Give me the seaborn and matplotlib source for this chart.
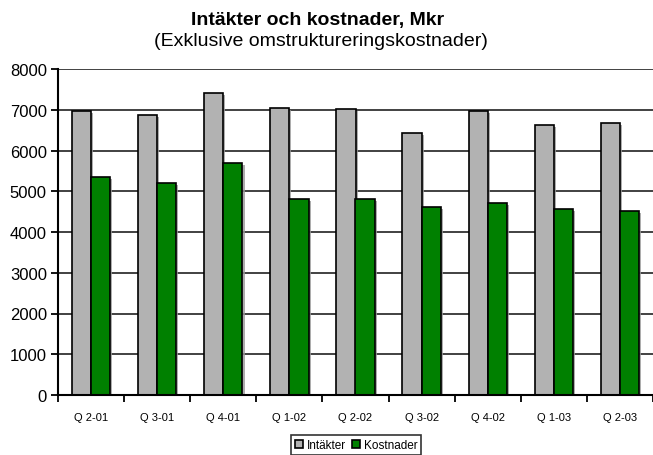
import numpy as np
import pandas as pd
import matplotlib
matplotlib.use("Agg")
import matplotlib.pyplot as plt
import matplotlib.patheffects as pe
import seaborn as sns

# data
kvartal = ["Q 2-01", "Q 3-01", "Q 4-01", "Q 1-02", "Q 2-02",
           "Q 3-02", "Q 4-02", "Q 1-03", "Q 2-03"]
intakter = [6960, 6880, 7420, 7050, 7010, 6440, 6960, 6630, 6680]
kostnader = [5350, 5210, 5700, 4810, 4800, 4620, 4720, 4570, 4520]
serier = ["Intäkter", "Kostnader"]
farger = {"Intäkter": "#b2b2b2", "Kostnader": "#008000"}

df = pd.DataFrame({
    "Kvartal": kvartal * 2,
    "Serie": [serier[0]] * len(kvartal) + [serier[1]] * len(kvartal),
    "Mkr": intakter + kostnader,
})

sns.set_style("white")
plt.rcParams["font.family"] = ["Liberation Sans", "DejaVu Sans"]
plt.rcParams["text.color"] = "black"
plt.rcParams["xtick.color"] = "black"
plt.rcParams["ytick.color"] = "black"
plt.rcParams["xtick.labelcolor"] = "black"
plt.rcParams["ytick.labelcolor"] = "black"

fig = plt.figure(figsize=(6.53, 4.56), dpi=100)
ax = fig.add_axes([58 / 653, 1 - 396 / 456, 1 - 58 / 653, (396 - 70) / 456])

sns.barplot(data=df, x="Kvartal", y="Mkr", hue="Serie", order=kvartal,
            hue_order=serier, palette=farger, saturation=1, width=0.58, gap=0,
            edgecolor="black", linewidth=1.2, ax=ax, zorder=3)

# lätt skugga som i Excel-originalet
for p in ax.patches:
    p.set_path_effects([pe.SimplePatchShadow(offset=(1.5, -1.5), shadow_rgbFace="#999999", alpha=0.8),
                        pe.Normal()])

ax.set_ylim(0, 8000)
ax.set_xlim(-0.5, len(kvartal) - 0.5)
ax.set_yticks(np.arange(0, 8001, 1000))
ax.set_xlabel("")
ax.set_ylabel("")

for s in ["top", "right"]:
    ax.spines[s].set_visible(False)
for s in ["left", "bottom"]:
    ax.spines[s].set_color("black")
    ax.spines[s].set_linewidth(1.5)
    ax.spines[s].set_zorder(4)

ax.tick_params(axis="y", which="major", left=True, length=5, width=1.3,
               color="black", labelcolor="black", labelsize=12, pad=3)
ax.tick_params(axis="x", which="major", bottom=False, labelcolor="black",
               labelsize=8, pad=9)
ax.set_xticks(np.arange(-0.5, len(kvartal), 1), minor=True)
ax.tick_params(axis="x", which="minor", bottom=True, length=5, width=1.3,
               color="black", direction="out")

ax.set_axisbelow(True)
ax.grid(True, axis="y", which="major", color="#333333", linewidth=1.3)
ax.grid(False, axis="x", which="both")

ax.get_legend().remove()
handles = [plt.Rectangle((0, 0), 1, 1, facecolor=farger[s], edgecolor="black", linewidth=1.2)
           for s in serier]
leg = fig.legend(handles, serier, loc="center", bbox_to_anchor=(356 / 653, 1 - 446 / 456),
                 ncol=2, fontsize=8.5, frameon=True, fancybox=False,
                 handlelength=0.7, handleheight=0.7, handletextpad=0.3,
                 columnspacing=0.5, borderpad=0.3, borderaxespad=0)
leg.get_frame().set_edgecolor("black")
leg.get_frame().set_linewidth(1.2)

fig.text(318 / 653, 1 - 20 / 456, "Intäkter och kostnader, Mkr",
         ha="center", va="center", fontsize=14, fontweight="bold", color="black")
fig.text(321 / 653, 1 - 41 / 456, "(Exklusive omstruktureringskostnader)",
         ha="center", va="center", fontsize=14, color="black")

fig.savefig("out.png", dpi=100)
